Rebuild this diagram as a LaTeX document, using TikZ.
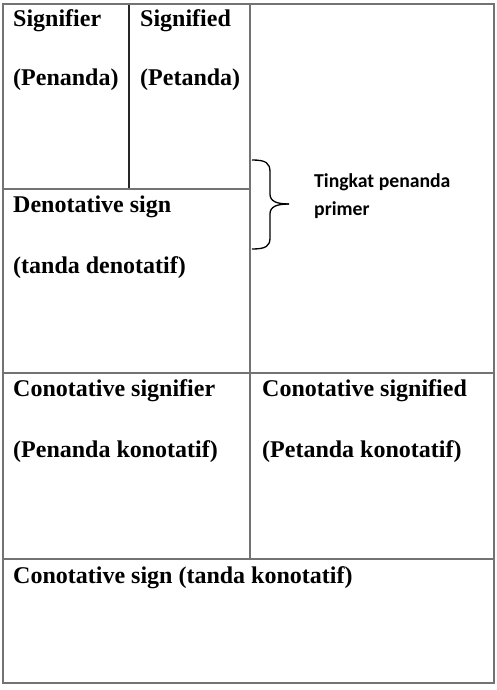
\documentclass[tikz,border=0pt]{standalone}
\usepackage{fontspec}
\setmainfont{Liberation Serif}
\newfontfamily\calib{Carlito}
\begin{document}
\begin{tikzpicture}[x=1pt,y=-1pt,
  grid/.style={draw=black!55,line width=1.4pt},
  inner/.style={draw=black!85,line width=1.1pt},
  lbl/.style={anchor=base west,inner sep=0pt,font=\fontsize{24}{28}\selectfont\bfseries},
  side/.style={anchor=base west,inner sep=0pt,font=\calib\fontsize{19.7}{24}\selectfont\bfseries},
  bracestyle/.style={draw=black,line width=1.3pt}]
\useasboundingbox (0,0) rectangle (496,690);
\fill[white] (0,0) rectangle (496,690);
% grid coordinates
\coordinate (tl) at (3,4);
\coordinate (tr) at (494,4);
\coordinate (bl) at (3,683);
\coordinate (br) at (494,683);
\coordinate (mtop) at (250,4);
\coordinate (m1) at (3,189);
\coordinate (m1r) at (250,189);
\coordinate (h2l) at (3,373);
\coordinate (h2r) at (494,373);
\coordinate (h3l) at (3,559);
\coordinate (h3r) at (494,559);
\coordinate (m3) at (250,559);
\coordinate (v1t) at (129,4);
\coordinate (v1b) at (129,189);
% lines
\draw[inner] (v1t) -- (v1b);
\draw[grid] (m1) -- (m1r);
\draw[grid] (h2l) -- (h2r);
\draw[grid] (h3l) -- (h3r);
\draw[grid] (mtop) -- (m3);
\draw[grid] (tl) -- (tr) -- (br) -- (bl) -- cycle;
% texts
\node[lbl] (sr) at (13,27) {Signifier};
\node[lbl] (pn) at (13,86) {(Penanda)};
\node[lbl] (sd) at (140,27) {Signified};
\node[lbl] (pt) at (140,86) {(Petanda)};
\node[lbl] (ds) at (13,212) {Denotative sign};
\node[lbl] (td) at (13,273) {(tanda denotatif)};
\node[lbl] (csr) at (13,396) {Conotative signifier};
\node[lbl] (pk) at (13,457) {(Penanda konotatif)};
\node[lbl] (csd) at (262,396) {Conotative signified};
\node[lbl] (ptk) at (262,457) {(Petanda konotatif)};
\node[lbl] (cs) at (13,583) {Conotative sign (tanda konotatif)};
\node[side] (tp1) at (314,187) {Tingkat penanda};
\node[side] (tp2) at (314,215) {primer};
% brace
\coordinate (btop) at (252,160);
\coordinate (btip) at (289,204);
\coordinate (bbot) at (252,249);
\draw[bracestyle] (btop) .. controls (266,160) and (270,163) .. (270,172)
  -- (270,194) .. controls (270,201) and (276,204) .. (btip);
\draw[bracestyle] (btip) .. controls (276,204) and (270,207) .. (270,214)
  -- (270,238) .. controls (270,246) and (266,249) .. (bbot);
\end{tikzpicture}
\end{document}
